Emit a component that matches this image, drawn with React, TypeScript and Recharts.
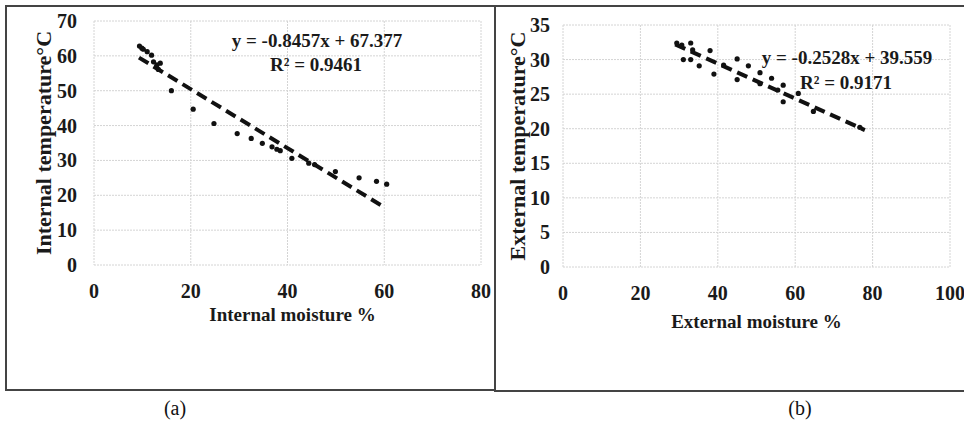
import React from "react";
import { ScatterChart, Scatter, XAxis, YAxis, CartesianGrid, ReferenceLine, Label } from "recharts";

// (a) internal moisture vs internal temperature
const internalMoisture = [9.4, 9.9, 10.2, 11.0, 11.9, 12.3, 13.0, 13.7, 13.3, 16.0, 20.5, 24.8, 29.6, 32.5, 34.8, 36.8, 37.8, 38.5, 40.9, 44.4, 45.6, 49.9, 54.8, 58.4, 60.5];
const internalTemp = [62.8, 62.2, 61.9, 61.2, 60.2, 58.3, 57.4, 57.9, 56.1, 50.0, 44.7, 40.6, 37.7, 36.3, 34.9, 33.9, 33.2, 32.8, 30.6, 29.2, 28.8, 26.8, 25.0, 24.0, 23.2];
const internalTrend = [{ x: 9.3, y: 59.5 }, { x: 60, y: 16.6 }];
const internalXTicks = [0, 20, 40, 60, 80];
const internalYTicks = [0, 10, 20, 30, 40, 50, 60, 70];

// (b) external moisture vs external temperature
const externalMoisture = [29.4, 30.7, 33.0, 31.1, 33.0, 33.5, 35.2, 38.0, 39.0, 41.5, 45.0, 45.0, 47.9, 50.9, 50.9, 53.9, 55.5, 56.9, 56.9, 60.8, 64.7, 76.7];
const externalTemp = [32.4, 32.1, 32.4, 30.0, 30.0, 31.4, 29.1, 31.3, 27.9, 29.2, 30.1, 27.1, 29.1, 28.1, 26.5, 27.3, 25.6, 26.3, 23.9, 25.1, 22.5, 20.2];
const externalTrend = [{ x: 29, y: 32.2 }, { x: 78, y: 19.8 }];
const externalXTicks = [0, 20, 40, 60, 80, 100];
const externalYTicks = [0, 5, 10, 15, 20, 25, 30, 35];

const FONT = "'Liberation Serif', 'Times New Roman', serif";
const GRID = "#d4d4d4";
const INK = "#1a1a1a";

const toPoints = (xs: number[], ys: number[]) => xs.map((x, i) => ({ x, y: ys[i] }));

const Dot = (props: any) => <circle cx={props.cx} cy={props.cy} r={2.6} fill="#111" />;

// custom ticks so the bold serif really sticks
const XTick = (props: any) => (
  <text x={props.x} y={props.y + 27} textAnchor="middle" fill={INK} fontSize={20} fontWeight="bold" fontFamily={FONT}>
    {props.payload.value}
  </text>
);
const YTick = (props: any) => (
  <text x={props.x} y={props.y + 7} textAnchor="end" fill={INK} fontSize={20} fontWeight="bold" fontFamily={FONT}>
    {props.payload.value}
  </text>
);

const yTitle = (text: string, x: number) => (props: any) => {
  const vb = props.viewBox || { y: 0, height: 0 };
  const cy = vb.y + vb.height / 2;
  return (
    <text x={x} y={cy} transform={`rotate(-90 ${x} ${cy})`} textAnchor="middle" dominantBaseline="central"
      fill={INK} fontSize={22} fontWeight="bold" fontFamily={FONT}>{text}</text>
  );
};

const xTitle = (text: string, dx: number, dy: number) => (props: any) => {
  const vb = props.viewBox || { x: 0, y: 0, width: 0 };
  return (
    <text x={vb.x + vb.width / 2 + dx} y={vb.y + dy} textAnchor="middle"
      fill={INK} fontSize={19} fontWeight="bold" fontFamily={FONT}>{text}</text>
  );
};

interface PanelProps {
  left: number;
  width: number;
  margin: { top: number; right: number; left: number; bottom: number };
  yWidth: number;
  yTickMargin: number;
  xDomain: [number, number];
  yDomain: [number, number];
  xTicks: number[];
  yTicks: number[];
  data: { x: number; y: number }[];
  trend: { x: number; y: number }[];
  xLabel: string;
  yLabel: string;
  yLabelX: number;
  xLabelDx: number;
  xLabelDy: number;
}

const Panel = (p: PanelProps) => (
  <div style={{ position: "absolute", left: p.left, top: 0 }}>
    <ScatterChart width={p.width} height={340} margin={p.margin}>
      <CartesianGrid stroke={GRID} strokeDasharray="2 1" />
      <XAxis type="number" dataKey="x" domain={p.xDomain} ticks={p.xTicks} axisLine={false} tickLine={false}
        tickMargin={0} height={60} tick={<XTick />} interval={0}>
        <Label content={xTitle(p.xLabel, p.xLabelDx, p.xLabelDy)} />
      </XAxis>
      <YAxis type="number" dataKey="y" domain={p.yDomain} ticks={p.yTicks} axisLine={false} tickLine={false}
        tickMargin={p.yTickMargin} width={p.yWidth} tick={<YTick />} interval={0}>
        <Label content={yTitle(p.yLabel, p.yLabelX)} />
      </YAxis>
      <ReferenceLine segment={p.trend} stroke="#111" strokeWidth={4} strokeDasharray="11 6" />
      <Scatter data={p.data} shape={Dot} isAnimationActive={false} />
    </ScatterChart>
  </div>
);

const eqStyle: React.CSSProperties = {
  position: "absolute", fontFamily: FONT, fontWeight: 700, fontSize: 19, color: INK,
  transform: "translate(-50%, -50%)", whiteSpace: "nowrap", lineHeight: 1,
};
const capStyle: React.CSSProperties = {
  position: "absolute", fontFamily: FONT, fontSize: 20, color: "#111",
  transform: "translate(-50%, -50%)", whiteSpace: "nowrap", lineHeight: 1,
};

export default function App() {
  return (
    <div style={{ position: "absolute", left: 0, top: 0, width: 964, height: 426, background: "#fff", overflow: "hidden" }}>
      <div style={{ position: "absolute", left: 5, top: 5, width: 491, height: 386, border: "2px solid #444", boxSizing: "border-box" }} />
      <div style={{ position: "absolute", left: 494, top: 5, width: 490, height: 387, border: "2px solid #444", boxSizing: "border-box" }} />

      <Panel left={0} width={495} margin={{ top: 21, right: 14, left: 0, bottom: 15 }} yWidth={94} yTickMargin={11}
        xDomain={[0, 80]} yDomain={[0, 70]} xTicks={internalXTicks} yTicks={internalYTicks}
        data={toPoints(internalMoisture, internalTemp)} trend={internalTrend}
        xLabel="Internal moisture %" yLabel="Internal temperature°C" yLabelX={43} xLabelDx={5} xLabelDy={56} />

      <Panel left={496} width={468} margin={{ top: 25, right: 14, left: 0, bottom: 13 }} yWidth={67} yTickMargin={7}
        xDomain={[0, 100]} yDomain={[0, 35]} xTicks={externalXTicks} yTicks={externalYTicks}
        data={toPoints(externalMoisture, externalTemp)} trend={externalTrend}
        xLabel="External moisture %" yLabel="External temperature°C" yLabelX={21} xLabelDx={0} xLabelDy={61} />

      <div style={{ ...eqStyle, left: 317, top: 40 }}>y = -0.8457x + 67.377</div>
      <div style={{ ...eqStyle, left: 316, top: 64 }}>R² = 0.9461</div>
      <div style={{ ...eqStyle, left: 847, top: 57 }}>y = -0.2528x + 39.559</div>
      <div style={{ ...eqStyle, left: 846, top: 82 }}>R² = 0.9171</div>

      <div style={{ ...capStyle, left: 175, top: 408 }}>(a)</div>
      <div style={{ ...capStyle, left: 800, top: 408 }}>(b)</div>
    </div>
  );
}
